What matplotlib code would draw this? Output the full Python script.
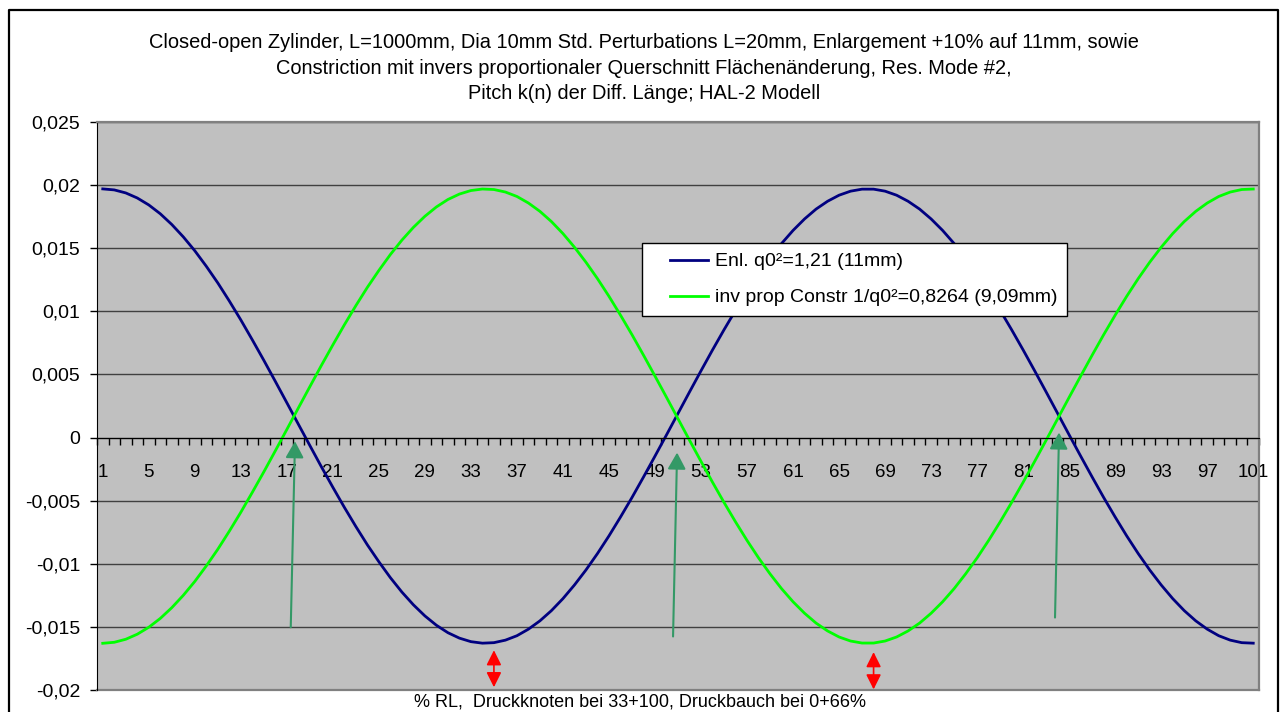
import matplotlib
matplotlib.use('Agg')
import matplotlib.pyplot as plt
from matplotlib.ticker import FuncFormatter, FixedLocator
from matplotlib.lines import Line2D
from matplotlib.legend_handler import HandlerLine2D

plt.rcParams['font.family'] = ['Liberation Sans', 'DejaVu Sans']

# data (positions 1..101 along the tube)
pos = list(range(1, 102))
enl = [0.01970, 0.01962, 0.01938, 0.01898, 0.01843, 0.01773, 0.01688, 0.01590, 0.01480, 0.01357,
       0.01225, 0.01082, 0.00932, 0.00774, 0.00612, 0.00445, 0.00276, 0.00106, -0.00063, -0.00231,
       -0.00394, -0.00553, -0.00705, -0.00850, -0.00984, -0.01110, -0.01224, -0.01325, -0.01413, -0.01487,
       -0.01546, -0.01589, -0.01617, -0.01629, -0.01625, -0.01605, -0.01570, -0.01518, -0.01452, -0.01371,
       -0.01276, -0.01168, -0.01049, -0.00919, -0.00779, -0.00630, -0.00475, -0.00313, -0.00147, 0.00021,
       0.00191, 0.00361, 0.00529, 0.00694, 0.00854, 0.01008, 0.01155, 0.01293, 0.01420, 0.01537,
       0.01641, 0.01732, 0.01810, 0.01872, 0.01920, 0.01952, 0.01968, 0.01968, 0.01952, 0.01920,
       0.01872, 0.01810, 0.01732, 0.01641, 0.01537, 0.01420, 0.01293, 0.01155, 0.01008, 0.00854,
       0.00694, 0.00529, 0.00361, 0.00191, 0.00021, -0.00147, -0.00313, -0.00475, -0.00630, -0.00779,
       -0.00919, -0.01049, -0.01168, -0.01276, -0.01371, -0.01452, -0.01518, -0.01570, -0.01605, -0.01625,
       -0.01629]
constr = [-0.01630, -0.01622, -0.01598, -0.01558, -0.01503, -0.01433, -0.01348, -0.01250, -0.01140, -0.01017,
          -0.00885, -0.00742, -0.00592, -0.00434, -0.00272, -0.00105, 0.00064, 0.00234, 0.00403, 0.00571,
          0.00734, 0.00893, 0.01045, 0.01190, 0.01324, 0.01450, 0.01564, 0.01665, 0.01753, 0.01827,
          0.01886, 0.01929, 0.01957, 0.01969, 0.01965, 0.01945, 0.01910, 0.01858, 0.01792, 0.01711,
          0.01616, 0.01508, 0.01389, 0.01259, 0.01119, 0.00970, 0.00815, 0.00653, 0.00487, 0.00319,
          0.00149, -0.00021, -0.00189, -0.00354, -0.00514, -0.00668, -0.00815, -0.00953, -0.01080, -0.01197,
          -0.01301, -0.01392, -0.01470, -0.01532, -0.01580, -0.01612, -0.01628, -0.01628, -0.01612, -0.01580,
          -0.01532, -0.01470, -0.01392, -0.01301, -0.01197, -0.01080, -0.00953, -0.00815, -0.00668, -0.00514,
          -0.00354, -0.00189, -0.00021, 0.00149, 0.00319, 0.00487, 0.00653, 0.00815, 0.00970, 0.01119,
          0.01259, 0.01389, 0.01508, 0.01616, 0.01711, 0.01792, 0.01858, 0.01910, 0.01945, 0.01965,
          0.01969]

# green arrows marking the crossings (tail -> head)
green_arrows = [((17.34, -0.01503), (17.71, -0.00029)),
                ((50.57, -0.01576), (50.92, -0.00119)),
                ((83.77, -0.01426), (84.12, 0.00040))]
# red double arrows at the minima
red_arrows = [(35, -0.01685, -0.01978), (68, -0.01700, -0.01995)]

title = ('Closed-open Zylinder, L=1000mm, Dia 10mm Std. Perturbations L=20mm, Enlargement +10% auf 11mm, sowie\n'
         'Constriction mit invers proportionaler Querschnitt Flächenänderung, Res. Mode #2,\n'
         'Pitch k(n) der Diff. Länge; HAL-2 Modell')
xlabel = '% RL,  Druckknoten bei 33+100, Druckbauch bei 0+66%'

fig = plt.figure(figsize=(12.8, 7.12), dpi=100)
ax = fig.add_axes([97/1280, 22/712, 1162/1280, 568/712])
ax.set_facecolor('#C0C0C0')

ax.plot(pos, enl, color='#000080', lw=2, label='Enl. q0²=1,21 (11mm)')
ax.plot(pos, constr, color='#00FF00', lw=2, label='inv prop Constr 1/q0²=0,8264 (9,09mm)')

ax.set_xlim(0.5, 101.5)
ax.set_ylim(-0.02, 0.025)
ax.set_yticks([-0.02, -0.015, -0.01, -0.005, 0, 0.005, 0.01, 0.015, 0.02, 0.025])
ax.yaxis.set_major_formatter(FuncFormatter(lambda v, p: ('%g' % round(v, 4)).replace('.', ',') if abs(v) > 1e-9 else '0'))
ax.grid(axis='y', color='#404040', lw=1)
ax.set_axisbelow(True)

ax.xaxis.set_major_locator(FixedLocator(pos[::4]))
ax.xaxis.set_minor_locator(FixedLocator([p - 0.5 for p in pos] + [101.5]))
ax.tick_params(axis='x', which='major', length=0, pad=19, labelsize=13.5)
ax.tick_params(axis='x', which='minor', length=5, width=1, direction='out', color='black')
ax.tick_params(axis='y', length=5, width=1, pad=7, labelsize=14)

ax.spines['bottom'].set_position(('data', 0))
ax.spines['bottom'].set_color('black')
ax.spines['left'].set_color('black')
for s in ['top', 'right']:
    ax.spines[s].set_color('#808080')
    ax.spines[s].set_linewidth(1.6)
ax.add_line(Line2D([0, 1], [0, 0], transform=ax.transAxes, color='#808080', lw=1.6, clip_on=False))

for (tx, ty), (hx, hy) in green_arrows:
    ax.annotate('', xy=(hx, hy), xytext=(tx, ty),
                arrowprops=dict(arrowstyle='-|>,head_length=1.0,head_width=0.55', color='#339966',
                                lw=1.5, shrinkA=0, shrinkB=0, mutation_scale=10))
for x, y0, y1 in red_arrows:
    ax.annotate('', xy=(x, y1), xytext=(x, y0), annotation_clip=False,
                arrowprops=dict(arrowstyle='<|-|>,head_length=0.9,head_width=0.45', color='#FF0000',
                                lw=1.2, shrinkA=0, shrinkB=0, mutation_scale=10))

leg = ax.legend(loc='upper left', bbox_to_anchor=(0.469, 0.787), borderaxespad=0, fontsize=14,
                frameon=True, fancybox=False, edgecolor='black', framealpha=1, numpoints=2,
                handlelength=3.8, handletextpad=-0.55, borderpad=0.5, labelspacing=0.95,
                handler_map={Line2D: HandlerLine2D(marker_pad=0.93)})
leg.get_frame().set_linewidth(1)

fig.text(0.503, 1 - 68/712, title, ha='center', va='center', fontsize=14.4, linespacing=1.45)
fig.text(0.5, 1 - 702/712, xlabel, ha='center', va='center', fontsize=13)

# chart area border
fig.add_artist(Line2D([9/1280, 9/1280, 1278/1280, 1278/1280], [-0.01, 1 - 10/712, 1 - 10/712, -0.01],
                      transform=fig.transFigure, color='black', lw=1.6))

fig.savefig('out.png', dpi=100)
